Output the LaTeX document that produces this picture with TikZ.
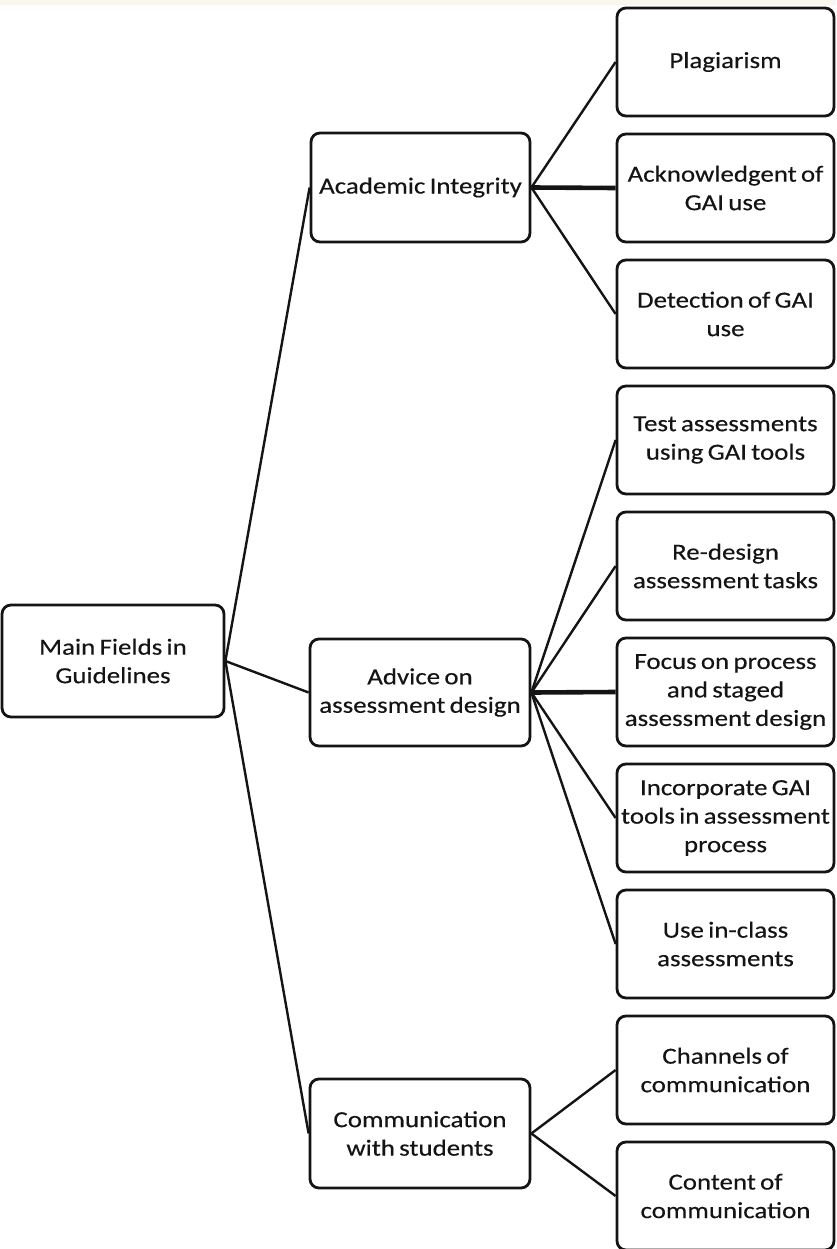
\documentclass[tikz,border=0pt]{standalone}
\usepackage{fontspec}
\setmainfont{Carlito}[FakeStretch=1.17,FakeBold=0.35,WordSpace=0.7]
\definecolor{topstrip}{rgb}{0.99,0.965,0.945}
\definecolor{inkc}{rgb}{0.08,0.08,0.08}
\begin{document}
\begin{tikzpicture}[x=1pt,y=-1pt,
  box/.style={draw=inkc, text=inkc, line width=2.8pt, rounded corners=9pt, align=center, inner sep=0pt,
    font=\fontsize{23}{28.5}\selectfont},
  leaf/.style={box, minimum width=217pt, minimum height=108pt},
  conn/.style={draw=inkc, line width=2.4pt},
  thickconn/.style={draw=inkc, line width=4.6pt}]
\useasboundingbox (0,0) rectangle (836,1249);
\fill[topstrip] (0,0) rectangle (836,5);
% root and level 1
\node[box, minimum width=222pt, minimum height=112pt] (main) at (113,661) {Main Fields in\\Guidelines};
\node[box, minimum width=219pt, minimum height=109pt] (acad) at (420.5,187.5) {Academic Integrity};
\node[box, minimum width=220pt, minimum height=107pt] (adv) at (420,692.5) {Advice on\\assessment design};
\node[box, minimum width=220pt, minimum height=109pt] (comm) at (420,1133.5) {Communication\\with students};
% leaves
\node[leaf] (plag) at (725.5,62) {Plagiarism};
\node[leaf] (ack) at (725.5,188) {Acknowledgent of\\GAI use};
\node[leaf] (det) at (725.5,314) {Detection of GAI\\use};
\node[leaf] (test) at (725.5,440) {Test assessments\\using GAI tools};
\node[leaf] (rede) at (725.5,566) {Re-design\\assessment tasks};
\node[leaf] (focus) at (725.5,692) {Focus on process\\and staged\\assessment design};
\node[leaf] (inc) at (725.5,818) {Incorporate GAI\\tools in assessment\\process};
\node[leaf] (use) at (725.5,944) {Use in-class\\assessments};
\node[leaf] (chan) at (725.5,1070) {Channels of\\communication};
\node[leaf] (cont) at (725.5,1196) {Content of\\communication};
% connectors
\draw[conn] (main.east) -- (acad.west);
\draw[conn] (main.east) -- (adv.west);
\draw[conn] (main.east) -- (comm.west);
\draw[conn] (acad.east) -- (plag.west);
\draw[thickconn] (acad.east) -- (ack.west);
\draw[conn] (acad.east) -- (det.west);
\draw[conn] (adv.east) -- (test.west);
\draw[conn] (adv.east) -- (rede.west);
\draw[thickconn] (adv.east) -- (focus.west);
\draw[conn] (adv.east) -- (inc.west);
\draw[conn] (adv.east) -- (use.west);
\draw[conn] (comm.east) -- (chan.west);
\draw[conn] (comm.east) -- (cont.west);
\end{tikzpicture}
\end{document}
